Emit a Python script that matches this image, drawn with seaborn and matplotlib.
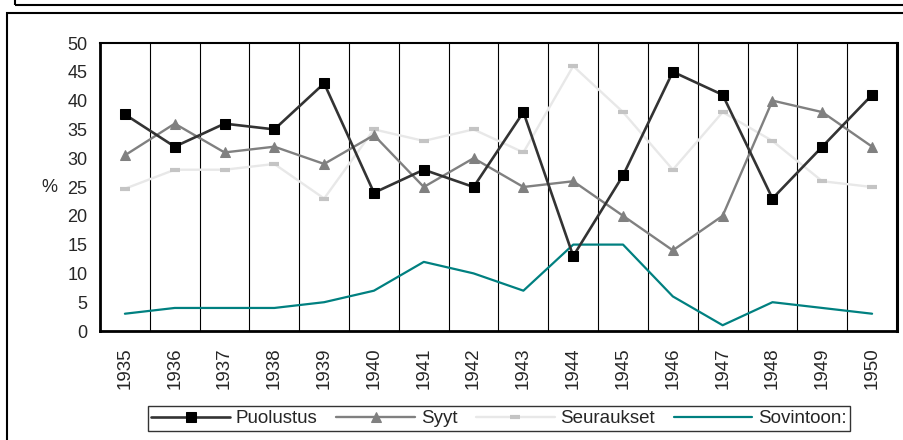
import numpy as np
import pandas as pd
import seaborn as sns
from matplotlib import pyplot as plt
from matplotlib.patches import Rectangle

years = [str(y) for y in range(1935, 1951)]
puolustus = [37.6, 32, 36, 35, 43, 24, 28, 25, 38, 13, 27, 45, 41, 23, 32, 41]
syyt = [30.5, 36, 31, 32, 29, 34, 25, 30, 25, 26, 20, 14, 20, 40, 38, 32]
seuraukset = [24.7, 28, 28, 29, 23, 35, 33, 35, 31, 46, 38, 28, 38, 33, 26, 25]
sovintoon = [3, 4, 4, 4, 5, 7, 12, 10, 7, 15, 15, 6, 1, 5, 4, 3]

sns.set_style("white")
plt.rcParams['font.family'] = ['Liberation Sans', 'DejaVu Sans']

pos = np.arange(len(years))
df = pd.DataFrame({"pos": pos, "Puolustus": puolustus, "Syyt": syyt,
                   "Seuraukset": seuraukset, "Sovintoon:": sovintoon})

fig = plt.figure(figsize=(9.04, 4.40), dpi=100)
ax = fig.add_axes([100/904, 1-331/440, 797/904, 288/440])

# vertical grid at category boundaries
for k in range(1, len(years)):
    ax.axvline(k-0.5, color="black", lw=0.8, zorder=0)

sns.lineplot(data=df, x="pos", y="Puolustus", ax=ax, color="#333333", lw=1.9,
             marker="s", markersize=7, markerfacecolor="black", markeredgecolor="black",
             label="Puolustus", zorder=5)
sns.lineplot(data=df, x="pos", y="Syyt", ax=ax, color="#808080", lw=1.7,
             marker="^", markersize=7, markerfacecolor="#808080", markeredgecolor="#808080",
             label="Syyt", zorder=4)
sns.lineplot(data=df, x="pos", y="Seuraukset", ax=ax, color="#e8e8e8", lw=1.7,
             marker="_", markersize=7, markeredgewidth=3, markeredgecolor="#c4c4c4",
             label="Seuraukset", zorder=3)
sns.lineplot(data=df, x="pos", y="Sovintoon:", ax=ax, color="#008080", lw=1.6,
             label="Sovintoon:", zorder=3)

ax.set_xlim(-0.5, len(years)-0.5)
ax.set_ylim(0, 50)
ax.set_yticks(range(0, 51, 5))
ax.set_xticks(pos)
ax.set_xticklabels(years, rotation=90)
ax.set_xticks(np.arange(-0.5, len(years), 1), minor=True)
ax.tick_params(axis="x", which="major", length=0, pad=12, labelsize=13.5)
ax.tick_params(axis="x", which="minor", length=5, width=0.8, direction="out", color="black")
ax.tick_params(axis="y", length=5, width=0.8, direction="out", color="black", labelsize=13, pad=4)
ax.set_xlabel("")
ax.set_ylabel("%", rotation=0, fontsize=13, va="center")
ax.yaxis.set_label_coords(-0.063, 0.5)

for side in ["left", "bottom"]:
    ax.spines[side].set_linewidth(2)
    ax.spines[side].set_color("black")
ax.spines["right"].set_linewidth(2.2)
ax.spines["right"].set_color("black")
ax.spines["top"].set_linewidth(1.5)
ax.spines["top"].set_color("black")

handles, labels = ax.get_legend_handles_labels()
ax.get_legend().remove()
fig.legend(handles, labels, loc="center", bbox_to_anchor=(499/904, 1-418.5/440),
           ncol=4, frameon=True, fancybox=False, edgecolor="black", fontsize=13.5,
           handlelength=4.2, handletextpad=0.3, columnspacing=1.0,
           borderpad=0.2, borderaxespad=0)
fig.legends[0].get_frame().set_linewidth(1)

# outer frames
fig.patches.append(Rectangle((7/904, -0.1), 1.2, 1-13/440+0.1, transform=fig.transFigure,
                             fill=False, edgecolor="black", lw=1.5))
fig.patches.append(Rectangle((15/904, 1-5/440), 1.2, 0.2, transform=fig.transFigure,
                             fill=False, edgecolor="black", lw=1.5))

fig.savefig("out.png", dpi=100)
